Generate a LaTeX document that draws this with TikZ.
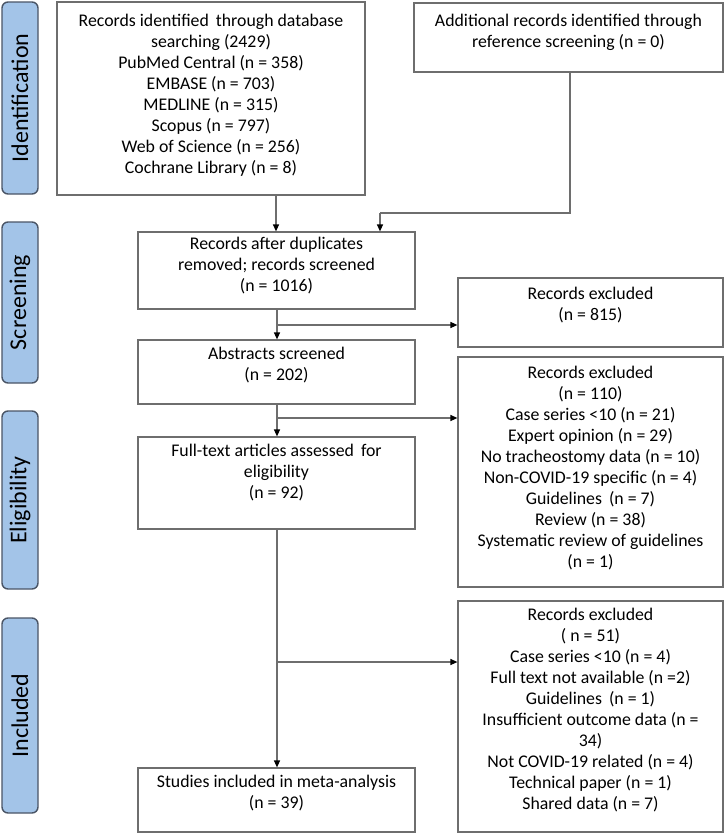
\documentclass[tikz,border=0pt]{standalone}
\usepackage{fontspec}
\setmainfont{Carlito}
\usetikzlibrary{arrows.meta}
\definecolor{sidefill}{HTML}{A3C4E8}
\definecolor{sideline}{HTML}{4A5566}
\definecolor{boxline}{HTML}{6E6E6E}
\tikzset{
  sidebox/.style={draw=sideline, line width=1.4pt, fill=sidefill, rounded corners=6pt},
  sidetext/.style={rotate=90, font=\fontsize{24}{28}\selectfont, text=black},
  mainbox/.style={draw=boxline, line width=1.2pt},
  boxtext/.style={align=center, font=\fontsize{17.8}{21}\selectfont, text=black, inner sep=0pt},
  conn/.style={draw=boxline, line width=1.2pt},
  arr/.style={conn, -{Triangle[length=7pt,width=6pt,fill=black,color=black]}}
}
\begin{document}
\begin{tikzpicture}[x=1pt,y=-1pt]
\useasboundingbox (0,0) rectangle (725,835);
% side labels
\draw[sidebox] (2,2) rectangle (38,194);
\node[sidetext] (sid) at (20,98) {Identification};
\draw[sidebox] (2,222) rectangle (38,383);
\node[sidetext] (sscr) at (20,302.5) {Screening};
\draw[sidebox] (2,411) rectangle (38,589);
\node[sidetext] (selig) at (20,500) {Eligibility};
\draw[sidebox] (2,618) rectangle (38,813);
\node[sidetext] (sinc) at (20,715.5) {Included};
% main boxes
\node[mainbox, minimum width=308pt, minimum height=193pt] (b1) at (211,98.5) {};
\node[boxtext, anchor=north] (t1) at (211,14) {Records identified\, through database\\searching (2429)\\PubMed Central (n = 358)\\EMBASE (n = 703)\\MEDLINE (n = 315)\\Scopus (n = 797)\\Web of Science (n = 256)\\Cochrane Library (n = 8)};
\node[mainbox, minimum width=309pt, minimum height=69pt] (b2) at (568.5,37.5) {};
\node[boxtext, anchor=north] (t2) at (568.5,14) {Additional records identified through\\reference screening (n = 0)};
\node[mainbox, minimum width=277pt, minimum height=77pt] (b3) at (276.5,270.5) {};
\node[boxtext] (t3) at (276.5,266) {Records after duplicates\\removed; records screened\\(n = 1016)};
\node[mainbox, minimum width=277pt, minimum height=64pt] (b4) at (276.5,372) {};
\node[boxtext, anchor=north] (t4) at (276.5,347) {Abstracts screened\\(n = 202)};
\node[mainbox, minimum width=277pt, minimum height=92pt] (b5) at (276.5,483) {};
\node[boxtext, anchor=north] (t5) at (276.5,444) {Full-text articles assessed\, for\\eligibility\\(n = 92)};
\node[mainbox, minimum width=277pt, minimum height=64pt] (b6) at (276.5,800) {};
\node[boxtext, anchor=north] (t6) at (276.5,775) {Studies included in meta-analysis\\(n = 39)};
% exclusion boxes
\node[mainbox, minimum width=265pt, minimum height=69pt] (e1) at (590.5,312.5) {};
\node[boxtext, anchor=north] (te1) at (590.5,287) {Records excluded\\(n = 815)};
\node[mainbox, minimum width=265pt, minimum height=230pt] (e2) at (590.5,472) {};
\node[boxtext, anchor=north] (te2) at (590.5,366) {Records excluded\\(n = 110)\\Case series <10 (n = 21)\\Expert opinion (n = 29)\\No tracheostomy data (n = 10)\\Non-COVID-19 specific (n = 4)\\Guidelines\, (n = 7)\\Review (n = 38)\\Systematic review of guidelines\\(n = 1)};
\node[mainbox, minimum width=265pt, minimum height=231pt] (e3) at (590.5,716.5) {};
\node[boxtext, anchor=north] (te3) at (590.5,608) {Records excluded\\( n = 51)\\Case series <10 (n = 4)\\Full text not available (n =2)\\Guidelines\, (n = 1)\\Insufficient outcome data (n =\\34)\\Not COVID-19 related (n = 4)\\Technical paper (n = 1)\\Shared data (n = 7)};
% connectors
\coordinate (c2a) at (570,213);
\coordinate (c2b) at (380,213);
\draw[arr] (b1.south -| 276,0) -- (b3.north -| 276,0);
\draw[conn] (b2.south -| c2a) -- (c2a) -- (c2b);
\draw[arr] (c2b) -- (b3.north -| c2b);
\coordinate (j1) at (277,325);
\coordinate (j2) at (277,418);
\coordinate (j3) at (277,662);
\draw[arr] (b3.south -| j1) -- (b4.north -| j1);
\draw[arr] (j1) -- (e1.west |- j1);
\draw[arr] (b4.south -| j2) -- (b5.north -| j2);
\draw[arr] (j2) -- (e2.west |- j2);
\draw[arr] (b5.south -| j3) -- (b6.north -| j3);
\draw[arr] (j3) -- (e3.west |- j3);
\end{tikzpicture}
\end{document}
